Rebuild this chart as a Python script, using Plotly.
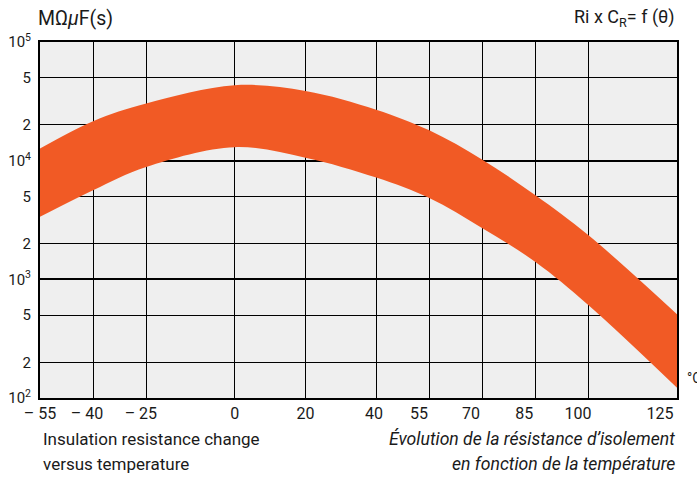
import plotly.graph_objects as go

# Data
temps = [-55, -40, -25, 0, 20, 40, 55, 70, 85, 100, 125]
upper = [12650, 21500, 30300, 43200, 38700, 26900, 18000, 10200, 5110, 2350, 508]
lower = [3360, 5630, 8850, 13000, 10600, 7210, 4850, 2700, 1400, 605, 122]

x_ticks = [-55, -40, -25, 0, 20, 40, 55, 70, 85, 100, 125]
x_ticktext = ["– 55", "– 40", "– 25", "0", "20", "40", "55", "70", "85", "100", "125"]
y_ticks = [100, 200, 500, 1000, 2000, 5000, 10000, 20000, 50000, 100000]
y_ticktext = ["10<sup>2</sup>", "2", "5", "10<sup>3</sup>", "2", "5",
              "10<sup>4</sup>", "2", "5", "10<sup>5</sup>"]
decades = [1000, 10000]

# layout: where the x labels sit (the reference prints them slightly left of their grid lines)
label_shift = [0, -1.7, -1.5, 0, 0, -0.6, -2.9, -3.2, -3.2, -3.0, -4.8]
label_pos = [t + s for t, s in zip(x_ticks, label_shift)]

ORANGE = "#f15a25"
FONT = "Roboto"
TXT = "#1a1a1a"

fig = go.Figure()
fig.add_trace(go.Scatter(x=temps, y=lower, mode="lines",
                         line=dict(color=ORANGE, width=0, shape="spline", smoothing=1.0),
                         hoverinfo="skip", showlegend=False))
fig.add_trace(go.Scatter(x=temps, y=upper, mode="lines",
                         line=dict(color=ORANGE, width=0, shape="spline", smoothing=1.0),
                         fill="tonexty", fillcolor=ORANGE, hoverinfo="skip", showlegend=False))

L, R, T, B = 40, 20, 42, 80
W, H = 697, 478
pw = W - L - R

fig.update_layout(
    width=W, height=H,
    margin=dict(l=L, r=R, t=T, b=B, autoexpand=False),
    paper_bgcolor="white",
    plot_bgcolor="#efefef",
    font=dict(family=FONT, size=14, color=TXT),
    xaxis=dict(range=[-55, 125], tickvals=label_pos, ticktext=x_ticktext,
               showgrid=False, automargin=False,
               minor=dict(tickvals=x_ticks, showgrid=True, gridcolor="black", gridwidth=1, ticks=""),
               showline=True, linecolor="black", linewidth=2, mirror=True,
               ticks="", zeroline=False, tickfont=dict(size=16, family=FONT, color=TXT),
               ticklabelstandoff=0, layer="below traces"),
    yaxis=dict(type="log", range=[2, 5], tickvals=y_ticks, ticktext=y_ticktext,
               showgrid=True, gridcolor="black", gridwidth=1, automargin=False,
               minor=dict(tickvals=decades, showgrid=True, gridcolor="black", gridwidth=2, ticks=""),
               showline=True, linecolor="black", linewidth=2, mirror=True,
               ticks="", zeroline=False, tickfont=dict(size=15, family=FONT, color=TXT),
               ticklabelstandoff=4, layer="below traces"),
)

def px(xp):
    return (xp - L) / pw

ann = [
    dict(text="MΩ<i>μ</i>F(s)", x=px(36), y=18, xanchor="left", size=19.5, it=False),
    dict(text="Ri x C<sub>R</sub>= f (θ)", x=px(677), y=18, xanchor="right", size=18, it=False),
    dict(text="°C", x=px(685), y=378, xanchor="left", size=14, it=False),
    dict(text="Insulation resistance change", x=px(41), y=439, xanchor="left", size=17, it=False),
    dict(text="versus temperature", x=px(41), y=464, xanchor="left", size=17, it=False),
    dict(text="<i>Évolution de la résistance d’isolement</i>", x=px(677), y=439, xanchor="right", size=17.6, it=True),
    dict(text="<i>en fonction de la température</i>", x=px(677), y=464, xanchor="right", size=17.6, it=True),
]
for a in ann:
    fig.add_annotation(text=a["text"], xref="paper", yref="paper",
                       x=a["x"], y=1 - (a["y"] - T) / (H - T - B),
                       xanchor=a["xanchor"], yanchor="middle", showarrow=False,
                       font=dict(family=FONT, size=a["size"], color=TXT))

fig.write_html("out.html", config={"displayModeBar": False},
               post_script="document.body.style.margin='0';document.body.style.padding='0';document.body.style.overflow='hidden';")
